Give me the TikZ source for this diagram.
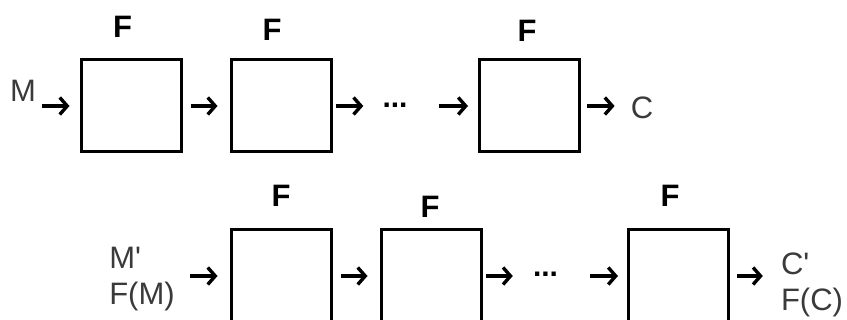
\documentclass[tikz,border=0pt]{standalone}
\usepackage{fontspec}
\setmainfont{Liberation Sans}
\usetikzlibrary{arrows.meta}
\definecolor{txtgray}{HTML}{3A3A3A}
\begin{document}
\begin{tikzpicture}[x=1pt,y=1pt,
  fbox/.style={draw=black, line width=3pt, minimum width=100pt, minimum height=92pt, inner sep=0pt},
  flabel/.style={font=\fontsize{31}{36}\selectfont\bfseries, inner sep=0pt},
  lbl/.style={font=\fontsize{31}{36}\selectfont, text=txtgray, inner sep=0pt},
  dotsnode/.style={font=\fontsize{30}{36}\selectfont\bfseries, inner sep=0pt},
  arr/.style={line width=3.4pt, -{Straight Barb[length=7.5pt,width=17pt,line width=3.4pt]}}
]
\useasboundingbox (0,0) rectangle (847,-320);
\clip (0,0) rectangle (847,-320);

% top row
\node[fbox] (b1) at (131,-106) {};
\node[fbox] (b2) at (281,-106) {};
\node[fbox] (b3) at (529.5,-106) {};
\node[flabel] (f1) at (122.5,-27) {F};
\node[flabel] (f2) at (272,-30) {F};
\node[flabel] (f3) at (527,-31) {F};
\node[lbl] (m) at (23,-91) {M};
\node[dotsnode] (d1) at (395,-105) {...};
\node[lbl] (c) at (642,-108) {C};

\draw[arr, shorten <=6pt, shorten >=10pt] (m.east |- b1.west) -- (b1.west);
\draw[arr, shorten <=8pt, shorten >=12pt] (b1.east) -- (b2.west);
\draw[arr, shorten <=3pt, shorten >=19pt] (b2.east) -- (b2.east -| d1.west);
\draw[arr, shorten <=31pt, shorten >=10pt] (d1.east |- b3.west) -- (b3.west);
\draw[arr, shorten <=6pt, shorten >=16pt] (b3.east) -- (b3.east -| c.west);

% bottom row
\node[fbox] (b4) at (281,-276) {};
\node[fbox] (b5) at (431,-276) {};
\node[fbox] (b6) at (678.5,-276) {};
\node[flabel] (f4) at (281,-196) {F};
\node[flabel] (f5) at (430,-207) {F};
\node[flabel] (f6) at (670,-196) {F};
\node[lbl, align=left] (min) at (142,-279) {M\textquotesingle\\F(M)};
\node[dotsnode] (d2) at (545.5,-274) {...};
\node[lbl, align=left] (cout) at (812,-285) {C\textquotesingle\\F(C)};

\draw[arr, shorten <=15pt, shorten >=12pt] (min.east |- b4.west) -- (b4.west);
\draw[arr, shorten <=8pt, shorten >=12pt] (b4.east) -- (b5.west);
\draw[arr, shorten <=3pt, shorten >=20pt] (b5.east) -- (b5.east -| d2.west);
\draw[arr, shorten <=32pt, shorten >=9pt] (d2.east |- b6.west) -- (b6.west);
\draw[arr, shorten <=7pt, shorten >=18pt] (b6.east) -- (b6.east -| cout.west);
\end{tikzpicture}
\end{document}
